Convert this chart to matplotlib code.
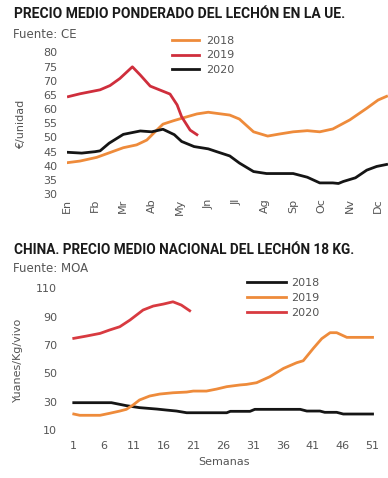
import numpy as np
import matplotlib.pyplot as plt

# --- datos UE (x en meses desde enero)
meses = ['En', 'Fb', 'Mr', 'Ab', 'My', 'Jn', 'Jl', 'Ag', 'Sp', 'Oc', 'Nv', 'Dc']
ue18_x = [0, 0.47, 1.06, 1.53, 2.0, 2.47, 2.83, 3.12, 3.4, 3.77, 4.18, 4.6, 5.0, 5.3,
          5.76, 6.1, 6.6, 7.1, 7.5, 8.0, 8.5, 8.94, 9.4, 10.0, 10.6, 11.0, 11.3]
ue18_y = [41.1, 41.7, 43, 44.7, 46.4, 47.4, 49.1, 52, 54.7, 55.9, 57.1, 58.3, 58.9, 58.5,
          57.9, 56.5, 52, 50.5, 51.2, 52, 52.4, 52, 53, 56.2, 60.3, 63.2, 64.5]
ue19_x = [0.06, 0.47, 1.18, 1.53, 1.88, 2.32, 2.6, 2.95, 3.65, 3.9, 4.06, 4.36, 4.6]
ue19_y = [64.4, 65.4, 66.8, 68.3, 70.8, 74.9, 72, 68.1, 65.3, 61.5, 57.3, 52.6, 51.0]
ue20_x = [0, 0.53, 1.0, 1.18, 1.5, 2.0, 2.6, 3.0, 3.4, 3.8, 4.06, 4.5, 5.0, 5.3, 5.76,
          6.1, 6.6, 7.06, 8.0, 8.5, 8.94, 9.4, 9.6, 9.77, 10.2, 10.6, 10.95, 11.3]
ue20_y = [44.8, 44.5, 45, 45.3, 48, 51.1, 52.3, 52, 52.9, 51, 48.6, 46.8, 46, 45, 43.5,
          41, 38, 37.3, 37.3, 36, 34, 34, 33.8, 34.5, 35.8, 38.5, 39.8, 40.5]

# --- datos China (semanas)
ch18_x = [1, 7.3, 9.8, 12, 14.9, 16.5, 18.2, 19.9, 26.6, 27.2, 30.5, 31.3, 38.9, 40,
          42.2, 43, 45, 46.1, 51]
ch18_y = [29.3, 29.3, 27.2, 25.8, 24.8, 24.1, 23.4, 22.2, 22.2, 23.2, 23.2, 24.6, 24.6,
          23.4, 23.4, 22.5, 22.5, 21.3, 21.3]
ch19_x = [1, 2, 5.4, 7, 8.7, 9.8, 10.9, 12, 13.7, 15.4, 17.6, 19.9, 21, 23.2, 24.9,
          26.6, 28.8, 29.9, 31.6, 33.8, 36.1, 38.3, 39.4, 41.1, 42.5, 43.9, 45, 46.7, 51]
ch19_y = [21.3, 20.4, 20.4, 21.8, 23.4, 24.6, 27.6, 31.2, 34, 35.4, 36.3, 36.8, 37.5,
          37.5, 38.9, 40.6, 41.8, 42.2, 43.4, 47.6, 53.5, 57.5, 58.9, 67.7, 74.5, 78.7,
          78.7, 75.4, 75.4]
ch20_x = [1, 3.1, 5.4, 7, 8.7, 10.4, 12.6, 14.3, 16, 17.6, 19, 20.4]
ch20_y = [74.7, 76.3, 78.2, 80.6, 82.9, 87.6, 94.7, 97.5, 98.9, 100.5, 98.2, 94.2]

naranja = '#EE8B3B'
rojo = '#CF2E3C'
negro = '#151515'
gris = '#555555'

W, H = 388, 478
fig = plt.figure(figsize=(W / 100, H / 100), dpi=100)

def rect(x0, x1, y0, y1):
    # pixel box -> figure fraction
    return [x0 / W, 1 - y1 / H, (x1 - x0) / W, (y1 - y0) / H]

def estilo(ax):
    for s in ax.spines.values():
        s.set_visible(False)
    ax.tick_params(length=0, labelsize=8, labelcolor=gris)

def titulo(texto, y, ancho):
    t = fig.text(14 / W, 1 - y / H, texto, family=['Roboto', 'DejaVu Sans'],
                 weight='bold', stretch='condensed',
                 fontsize=11, color='#1a1a1a', va='center')
    r = fig.canvas.get_renderer()
    w = t.get_window_extent(r).width
    if w > ancho:
        t.set_fontsize(11 * ancho / w)
    return t

# ---------- UE
ax1 = fig.add_axes(rect(66.7, 388, 49.5, 197.1))
ax1.plot(ue18_x, ue18_y, color=naranja, lw=2, label='2018')
ax1.plot(ue19_x, ue19_y, color=rojo, lw=2, label='2019')
ax1.plot(ue20_x, ue20_y, color=negro, lw=2, label='2020')
ax1.set_xlim(0, 11.35)
ax1.set_ylim(29, 81)
ax1.set_yticks(range(30, 81, 5))
ax1.set_xticks(range(12))
ax1.set_xticklabels(meses, rotation=90)
estilo(ax1)
ax1.tick_params(axis='y', pad=6.5)
ax1.tick_params(axis='x', pad=1)
ax1.legend(loc='upper left', bbox_to_anchor=(172 / W, 1 - 36 / H),
           bbox_transform=fig.transFigure, frameon=False, fontsize=8,
           handlelength=2.4, handletextpad=0.7, labelspacing=0.4,
           borderpad=0, borderaxespad=0, labelcolor=gris)
titulo('PRECIO MEDIO PONDERADO DEL LECHÓN EN LA UE.', 14, 331)
fig.text(13 / W, 1 - 34 / H, 'Fuente: CE', fontsize=8.5, color=gris, va='center')
fig.text(21 / W, 1 - 124 / H, '€/unidad', rotation=90, fontsize=8, color=gris,
         va='center', ha='center')

# ---------- China
ax2 = fig.add_axes(rect(66, 381.5, 285.5, 435.7))
ax2.plot(ch18_x, ch18_y, color=negro, lw=2, label='2018')
ax2.plot(ch19_x, ch19_y, color=naranja, lw=2, label='2019')
ax2.plot(ch20_x, ch20_y, color='#D83A40', lw=2, label='2020')
ax2.set_xlim(-0.3, 52.5)
ax2.set_ylim(6, 112)
ax2.set_yticks(range(10, 111, 20))
ax2.set_xticks(range(1, 52, 5))
estilo(ax2)
ax2.tick_params(axis='y', pad=6.5)
ax2.tick_params(axis='x', pad=4)
ax2.set_xlabel('Semanas', fontsize=8, color=gris, labelpad=4)
ax2.legend(loc='upper left', bbox_to_anchor=(247 / W, 1 - 278 / H),
           bbox_transform=fig.transFigure, frameon=False, fontsize=8,
           handlelength=3.5, handletextpad=0.5, labelspacing=0.45,
           borderpad=0, borderaxespad=0, labelcolor=gris)
titulo('CHINA. PRECIO MEDIO NACIONAL DEL LECHÓN 18 KG.', 250.5, 341)
fig.text(13 / W, 1 - 269 / H, 'Fuente: MOA', fontsize=8.5, color=gris, va='center')
fig.text(18 / W, 1 - 360 / H, 'Yuanes/Kg/vivo', rotation=90, fontsize=8, color=gris,
         va='center', ha='center')

fig.savefig('out.png', dpi=100)
